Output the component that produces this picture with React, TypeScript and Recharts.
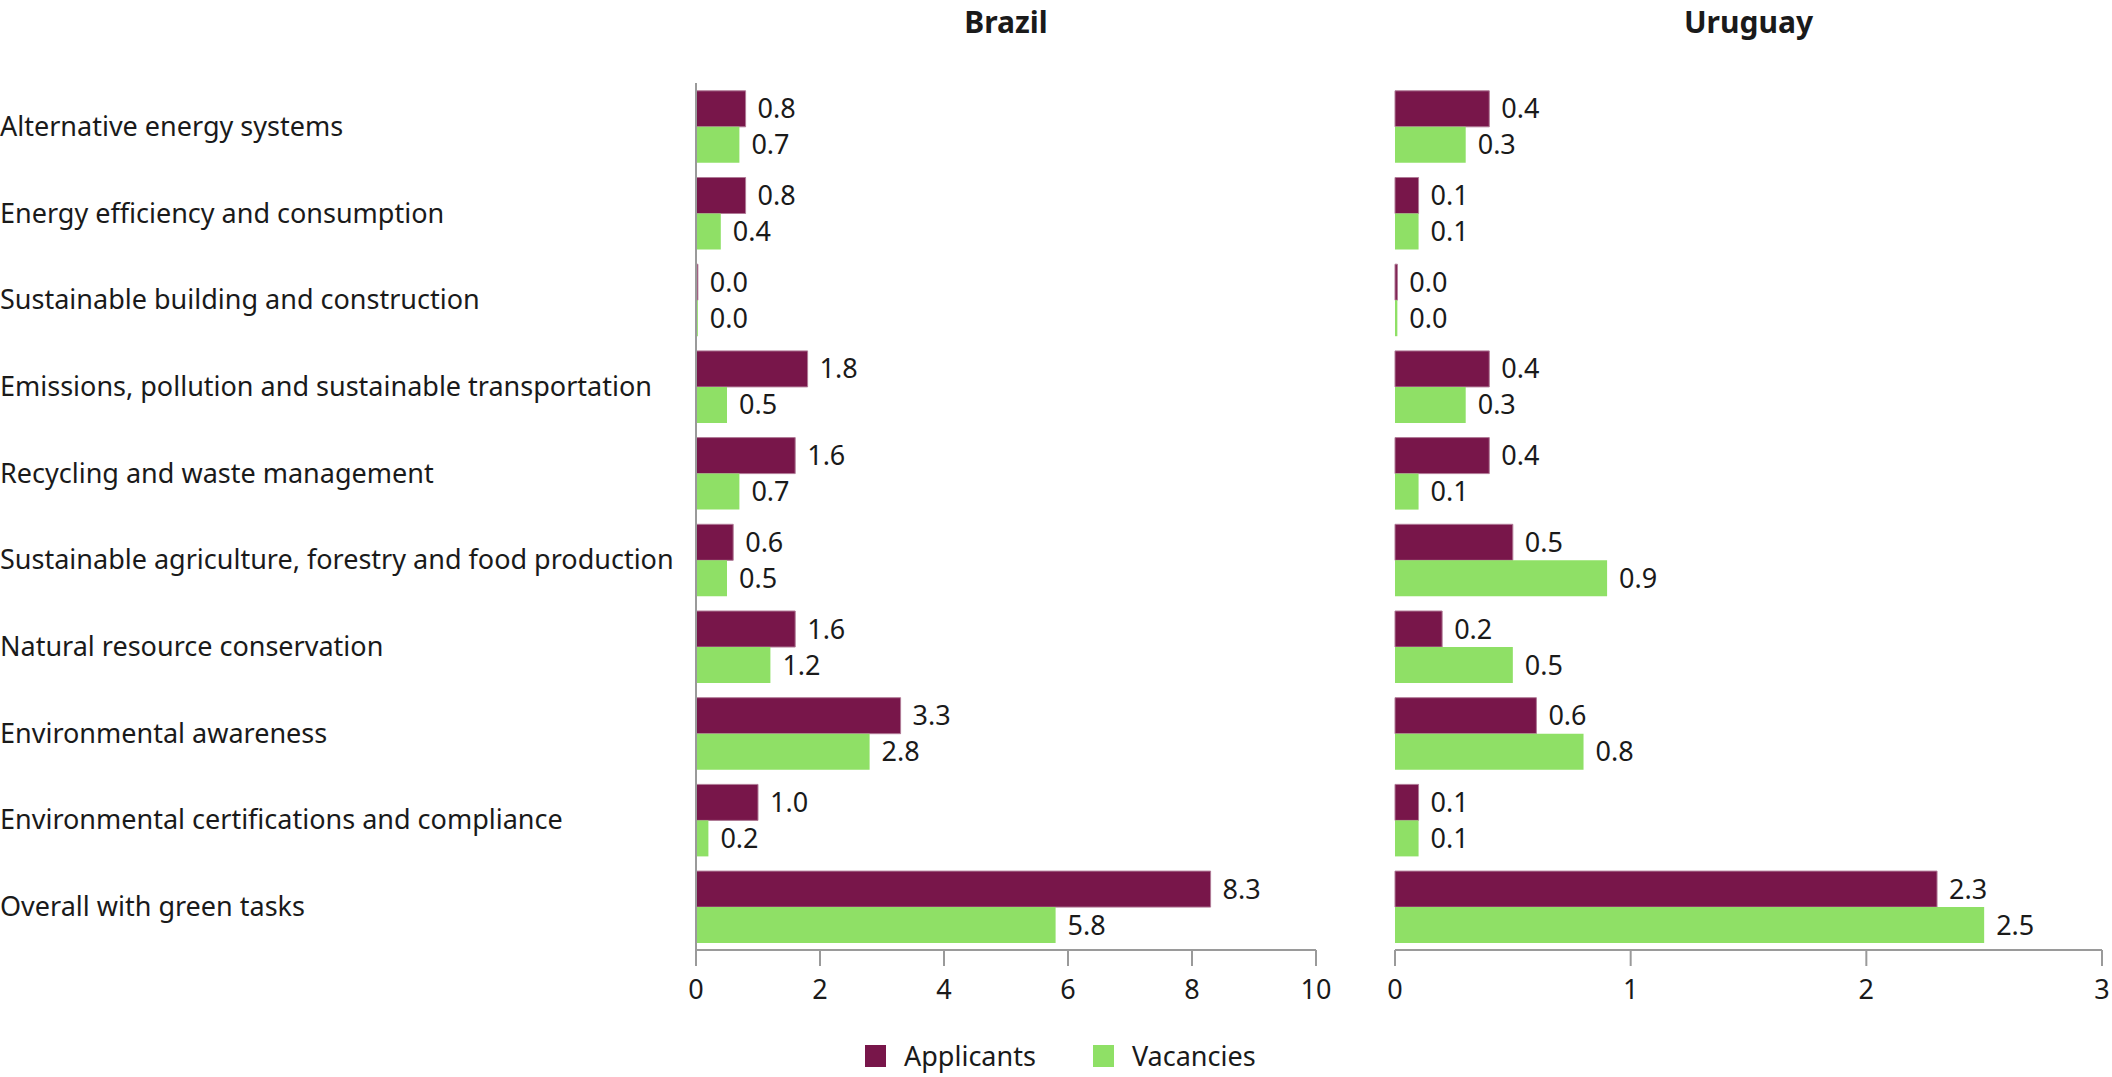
import React from 'react';
import { Bar, BarChart, LabelList, XAxis, YAxis } from 'recharts';

const categories = [
  'Alternative energy systems',
  'Energy efficiency and consumption',
  'Sustainable building and construction',
  'Emissions, pollution and sustainable transportation',
  'Recycling and waste management',
  'Sustainable agriculture, forestry and food production',
  'Natural resource conservation',
  'Environmental awareness',
  'Environmental certifications and compliance',
  'Overall with green tasks',
];

const brazilApplicants = [0.8, 0.8, 0.03, 1.8, 1.6, 0.6, 1.6, 3.3, 1.0, 8.3];
const brazilVacancies = [0.7, 0.4, 0.03, 0.5, 0.7, 0.5, 1.2, 2.8, 0.2, 5.8];
const uruguayApplicants = [0.4, 0.1, 0.01, 0.4, 0.4, 0.5, 0.2, 0.6, 0.1, 2.3];
const uruguayVacancies = [0.3, 0.1, 0.01, 0.3, 0.1, 0.9, 0.5, 0.8, 0.1, 2.5];

const brazilTicks = [0, 2, 4, 6, 8, 10];
const uruguayTicks = [0, 1, 2, 3];

const MAROON = '#78164a';
const GREEN = '#8fe066';
const AXIS = '#9a9a9a';
const TEXT = '#1a1a1a';
const FONT = '"Noto Sans", sans-serif';
const FS = 27;

const brazilData = categories.map((name, i) => ({
  name,
  applicants: brazilApplicants[i],
  vacancies: brazilVacancies[i],
}));
const uruguayData = categories.map((name, i) => ({
  name,
  applicants: uruguayApplicants[i],
  vacancies: uruguayVacancies[i],
}));

const fmt = (v: any) => Number(v).toFixed(1);

function CategoryTick(props: any) {
  const { y, payload } = props;
  return (
    <text x={0} y={y} dy={FS * 0.35} textAnchor="start" fontSize={FS} fill={TEXT} fontFamily={FONT}>
      {payload.value}
    </text>
  );
}

const MARGIN_TOP = 83;
const AXIS_HEIGHT = 1077 - 950;

function Series() {
  return [
    <Bar key="a" dataKey="applicants" fill={MAROON} stroke="#b07a96" strokeWidth={1} isAnimationActive={false}>
      <LabelList dataKey="applicants" position="right" offset={12} formatter={fmt} fontSize={FS} fill={TEXT} fontFamily={FONT} />
    </Bar>,
    <Bar key="v" dataKey="vacancies" fill={GREEN} isAnimationActive={false}>
      <LabelList dataKey="vacancies" position="right" offset={12} formatter={fmt} fontSize={FS} fill={TEXT} fontFamily={FONT} />
    </Bar>,
  ];
}

const titleStyle: React.CSSProperties = {
  position: 'absolute',
  top: 4,
  fontFamily: FONT,
  fontWeight: 700,
  fontSize: 30,
  lineHeight: '36px',
  textAlign: 'center',
  color: TEXT,
};

export default function App() {
  const tickStyle = { fontSize: FS, fill: TEXT, fontFamily: FONT };
  return (
    <div style={{ position: 'absolute', left: 0, top: 0, width: 2112, height: 1077, background: '#fff' }}>
      <div style={{ ...titleStyle, left: 696, width: 620 }}>Brazil</div>
      <div style={{ ...titleStyle, left: 1395, width: 707 }}>Uruguay</div>

      <div style={{ position: 'absolute', left: 0, top: 0 }}>
        <BarChart
          width={1340}
          height={1077}
          data={brazilData}
          layout="vertical"
          margin={{ top: MARGIN_TOP, right: 24, bottom: 0, left: 0 }}
          barCategoryGap="9%"
          barGap={0}
        >
          <XAxis
            type="number"
            domain={[0, 10]}
            ticks={brazilTicks}
            tickSize={16}
            tickMargin={14}
            height={AXIS_HEIGHT}
            stroke={AXIS}
            strokeWidth={2}
            tick={tickStyle}
            interval={0}
          />
          <YAxis
            type="category"
            dataKey="name"
            width={696}
            tickLine={false}
            stroke={AXIS}
            strokeWidth={2}
            tick={<CategoryTick />}
            interval={0}
          />
          {Series()}
        </BarChart>
      </div>

      <div style={{ position: 'absolute', left: 1380, top: 0 }}>
        <BarChart
          width={732}
          height={1077}
          data={uruguayData}
          layout="vertical"
          margin={{ top: MARGIN_TOP, right: 10, bottom: 0, left: 15 }}
          barCategoryGap="9%"
          barGap={0}
        >
          <XAxis
            type="number"
            domain={[0, 3]}
            ticks={uruguayTicks}
            tickSize={16}
            tickMargin={14}
            height={AXIS_HEIGHT}
            stroke={AXIS}
            strokeWidth={2}
            tick={tickStyle}
            interval={0}
          />
          <YAxis
            type="category"
            dataKey="name"
            width={0}
            tick={false}
            tickLine={false}
            stroke={AXIS}
            strokeWidth={2}
          />
          {Series()}
        </BarChart>
      </div>

      <div
        style={{
          position: 'absolute',
          top: 1040,
          left: 865,
          display: 'flex',
          alignItems: 'center',
          fontFamily: FONT,
          fontSize: FS,
          color: TEXT,
          lineHeight: '32px',
        }}
      >
        <span style={{ width: 21, height: 22, background: MAROON, display: 'inline-block', marginRight: 18 }} />
        <span style={{ marginRight: 57 }}>Applicants</span>
        <span style={{ width: 21, height: 22, background: GREEN, display: 'inline-block', marginRight: 18 }} />
        <span>Vacancies</span>
      </div>
    </div>
  );
}
